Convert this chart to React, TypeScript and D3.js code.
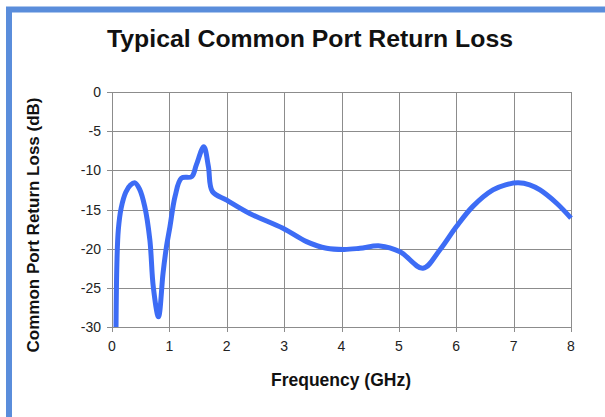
import React, { useEffect, useRef } from 'react';
import * as d3 from 'd3';

const title = 'Typical Common Port Return Loss';
const xLabel = 'Frequency (GHz)';
const yLabel = 'Common Port Return Loss (dB)';

const xTicks = [0, 1, 2, 3, 4, 5, 6, 7, 8];
const yTicks = [0, -5, -10, -15, -20, -25, -30];

// frequency (GHz) and return loss (dB)
const freq = [
	0.07, 0.085, 0.11, 0.16, 0.24, 0.32, 0.4, 0.48, 0.57, 0.66, 0.72, 0.81, 0.89, 0.95, 1.01, 1.1,
	1.21, 1.39, 1.47, 1.6, 1.68, 1.75, 2.0, 2.4, 2.98, 3.39, 3.74, 4.05, 4.32, 4.67, 5.02, 5.42, 5.71,
	6.0, 6.29, 6.64, 6.86, 7.08, 7.28, 7.46, 7.75, 8.0,
];
const loss = [
	-30, -22, -17.6, -14.8, -12.8, -11.9, -11.6, -12.4, -14.6, -18.9, -24.9, -28.7, -23.1, -19.7,
	-17.2, -13.3, -11.0, -10.8, -9.3, -7.0, -9.5, -12.7, -13.8, -15.5, -17.4, -19.1, -19.95, -20.1,
	-19.95, -19.65, -20.4, -22.5, -20.2, -17.2, -14.6, -12.5, -11.85, -11.6, -11.85, -12.5, -14.2,
	-16.1,
];

const W = 605;
const H = 417;
const plot = { left: 112, right: 571, top: 92, bottom: 327 };

const App: React.FC = () => {
	const svgRef = useRef<SVGSVGElement>(null);

	useEffect(() => {
		const svg = d3.select(svgRef.current);
		svg.selectAll('*').remove();

		const x = d3.scaleLinear().domain([0, 8]).range([plot.left, plot.right]);
		const y = d3.scaleLinear().domain([-30, 0]).range([plot.bottom, plot.top]);

		svg.append('rect').attr('width', W).attr('height', H).attr('fill', 'white');

		// blue frame that runs off the right and bottom edges
		svg
			.append('rect')
			.attr('x', 9)
			.attr('y', 9.5)
			.attr('width', W + 20)
			.attr('height', H + 20)
			.attr('fill', 'none')
			.attr('stroke', '#5a8ddb')
			.attr('stroke-width', 6);

		// grid
		const grid = svg.append('g').attr('stroke', '#8c8c8c').attr('stroke-width', 1);
		grid
			.selectAll('line.v')
			.data(xTicks)
			.enter()
			.append('line')
			.attr('x1', (d) => Math.round(x(d)) + 0.5)
			.attr('x2', (d) => Math.round(x(d)) + 0.5)
			.attr('y1', plot.top)
			.attr('y2', plot.bottom + 5);
		grid
			.selectAll('line.h')
			.data(yTicks)
			.enter()
			.append('line')
			.attr('y1', (d) => Math.round(y(d)) + 0.5)
			.attr('y2', (d) => Math.round(y(d)) + 0.5)
			.attr('x1', plot.left - 5)
			.attr('x2', plot.right);

		// tick labels
		const font = 'Liberation Sans, Arial, sans-serif';
		svg
			.selectAll('text.xt')
			.data(xTicks)
			.enter()
			.append('text')
			.attr('x', (d) => x(d))
			.attr('y', plot.bottom + 24)
			.attr('text-anchor', 'middle')
			.style('font-family', font)
			.style('font-size', '14px')
			.attr('fill', '#222')
			.text((d) => d);
		svg
			.selectAll('text.yt')
			.data(yTicks)
			.enter()
			.append('text')
			.attr('x', plot.left - 11)
			.attr('y', (d) => y(d) + 5)
			.attr('text-anchor', 'end')
			.style('font-family', font)
			.style('font-size', '14px')
			.attr('fill', '#222')
			.text((d) => d);

		// curve
		const pts = freq.map((f, i) => [f, loss[i]] as [number, number]);
		const line = d3
			.line<[number, number]>()
			.x((d) => x(d[0]))
			.y((d) => y(d[1]))
			.curve(d3.curveCatmullRom.alpha(0.5));
		svg
			.append('path')
			.attr('d', line(pts) as string)
			.attr('fill', 'none')
			.attr('stroke', '#3d6cf5')
			.attr('stroke-width', 5)
			.attr('stroke-linejoin', 'round');

		// titles
		svg
			.append('text')
			.attr('x', 310)
			.attr('y', 47)
			.attr('text-anchor', 'middle')
			.style('font-family', font)
			.style('font-weight', 'bold')
			.style('font-size', '24.8px')
			.attr('fill', '#111')
			.text(title);
		svg
			.append('text')
			.attr('x', 341)
			.attr('y', 386)
			.attr('text-anchor', 'middle')
			.style('font-family', font)
			.style('font-weight', 'bold')
			.style('font-size', '17.5px')
			.attr('fill', '#111')
			.text(xLabel);
		svg
			.append('text')
			.attr('transform', `translate(39, 225) rotate(-90)`)
			.attr('text-anchor', 'middle')
			.style('font-family', font)
			.style('font-weight', 'bold')
			.style('font-size', '17px')
			.attr('fill', '#111')
			.text(yLabel);
	}, []);

	return (
		<svg
			ref={svgRef}
			width={W}
			height={H}
			style={{ position: 'absolute', left: 0, top: 0, display: 'block' }}
		/>
	);
};

export default App;
